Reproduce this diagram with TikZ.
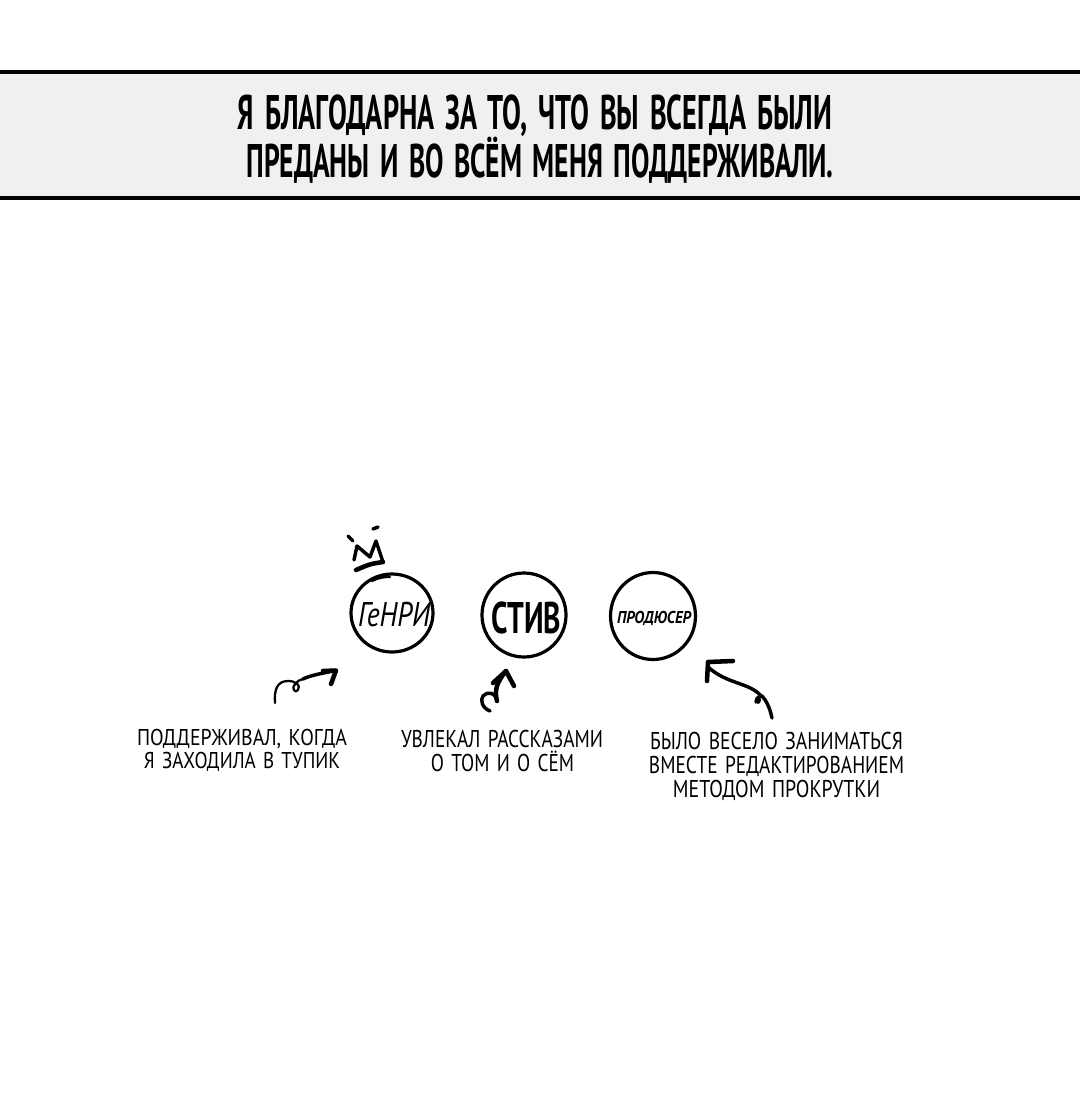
\documentclass[tikz,border=0pt]{standalone}
\usepackage{fontspec}
\usepackage{graphicx}
\usetikzlibrary{shapes.geometric}
\setmainfont{PT Sans}
\newdimen\pxu \pxu=0.75pt
\newcommand{\fitline}[3]{\resizebox{#1\pxu}{#2\pxu}{\raisebox{0pt}[0.7em][0pt]{\spaceskip=0.38em\relax #3}}}
\definecolor{bandgrey}{HTML}{F0F0F0}
\tikzset{
  x=0.75pt, y=-0.75pt,
  txt/.style={inner sep=0pt, outer sep=0pt, text=black},
  headtxt/.style={txt, font=\bfseries},
  captxt/.style={txt},
  ring/.style={ellipse, draw=black, line width=2.4pt, inner sep=0pt, text=black},
  thinpen/.style={draw=black, line width=1.7pt, line cap=round, line join=round},
  midpen/.style={draw=black, line width=2.6pt, line cap=round, line join=round},
  thickpen/.style={draw=black, line width=3.4pt, line cap=round, line join=round},
}
\begin{document}
\begin{tikzpicture}
\useasboundingbox (0,0) rectangle (1080,1111);
% band
\path[fill=bandgrey] (0,70) rectangle (1080,200);
\path[fill=black] (0,70) rectangle (1080,74);
\path[fill=black] (0,196) rectangle (1080,200);
\node[headtxt] (t1) at (535,112) {\fitline{594}{34}{Я БЛАГОДАРНА ЗА ТО, ЧТО ВЫ ВСЕГДА БЫЛИ}};
\node[headtxt] (t2) at (540,160.5) {\fitline{587}{33}{ПРЕДАНЫ И ВО ВСЁМ МЕНЯ ПОДДЕРЖИВАЛИ.}};
% characters
\node[ring, minimum width=82\pxu, minimum height=78\pxu] (henry) at (392,613) {};
\node[ring, minimum width=84\pxu, minimum height=84\pxu] (steve) at (524,615) {};
\node[ring, minimum width=85\pxu, minimum height=87\pxu] (prod) at (653,616) {};
\node[txt, font=\itshape] (henrytxt) at (394,614) {\fitline{72}{24}{ГеНРИ}};
\node[txt] (stevetxt) at (526,618) {\fitline{70}{31}{\bfseries СТИВ}};
\node[txt, font=\bfseries\itshape] (prodtxt) at (654,617) {\fitline{74}{12}{ПРОДЮСЕР}};
% stroke doubling on the first ring
\draw[thinpen] (372,581) .. controls (380,577) and (385,577) .. (390,577);
% crown
\coordinate (c1) at (354,560);
\coordinate (c2) at (357,546);
\coordinate (c3) at (370,557);
\coordinate (c4) at (376,541);
\coordinate (c5) at (383,562);
\coordinate (c6) at (370,564);
\coordinate (c7) at (356,570);
\draw[midpen] (c1) -- (c2) -- (c3) -- (c4) -- (c5);
\draw[thickpen] (c5) .. controls (c6) .. (c7);
\coordinate (d1) at (348,536);
\coordinate (d2) at (353,541);
\coordinate (d3) at (373,529);
\coordinate (d4) at (378,527);
\draw[midpen] (d1) -- (d2);
\draw[midpen] (d3) -- (d4);
% captions
\node[captxt] (a1) at (242,737) {\fitline{210}{16}{ПОДДЕРЖИВАЛ, КОГДА}};
\node[captxt] (a2) at (242,760) {\fitline{196}{16}{Я ЗАХОДИЛА В ТУПИК}};
\node[captxt] (b1) at (502,738.5) {\fitline{202}{17}{УВЛЕКАЛ РАССКАЗАМИ}};
\node[captxt] (b2) at (502.5,762.5) {\fitline{143}{17}{О ТОМ И О СЁМ}};
\node[captxt] (e1) at (776.5,740.5) {\fitline{253}{17}{БЫЛО ВЕСЕЛО ЗАНИМАТЬСЯ}};
\node[captxt] (e2) at (776.5,764.5) {\fitline{255}{17}{ВМЕСТЕ РЕДАКТИРОВАНИЕМ}};
\node[captxt] (e3) at (776.5,788.5) {\fitline{207}{17}{МЕТОДОМ ПРОКРУТКИ}};
% arrow 1
\coordinate (p1s) at (275,703);
\coordinate (p1m) at (303,679);
\coordinate (p1t) at (336,670.5);
\coordinate (p1a) at (323,671);
\coordinate (p1b) at (331,684);
\draw[thinpen] (p1s) .. controls (274,690) and (277,681) .. (288,681)
  .. controls (296,681) and (301,685) .. (298,690)
  .. controls (295,694) and (291,688) .. (295,684)
  .. controls (297,681) and (300,680) .. (p1m);
\draw[midpen] (p1m) .. controls (311,675) and (324,673) .. (p1t);
\draw[thickpen] (p1a) -- (p1t) -- (p1b);
% arrow 2
\coordinate (p2s) at (490,711);
\coordinate (p2m) at (497,701);
\coordinate (p2t) at (506,671);
\coordinate (p2a) at (493,683);
\coordinate (p2b) at (514,686);
\draw[midpen] (p2s) .. controls (482,708) and (480,700) .. (483,696)
  .. controls (487,691) and (496,692) .. (p2m);
\draw[thickpen] (p2m) .. controls (494,690) and (497,682) .. (p2t);
\draw[thickpen] (p2a) -- (p2t) -- (p2b);
% arrow 3
\coordinate (p3s) at (772,718);
\coordinate (p3m) at (758,694);
\coordinate (p3t) at (708,667);
\coordinate (p3a) at (733,661);
\coordinate (p3b) at (707,681);
\draw[midpen] (p3s) .. controls (770,708) and (766,700) .. (762,696)
  .. controls (760,695) and (756,699) .. (756,702);
\path[fill=black] (758,700) ellipse [x radius=3, y radius=4];
\draw[midpen] (762,697) .. controls (750,682) and (728,685) .. (p3t);
\draw[thickpen] (p3a) -- (708,662) -- (p3b);
\end{tikzpicture}
\end{document}
